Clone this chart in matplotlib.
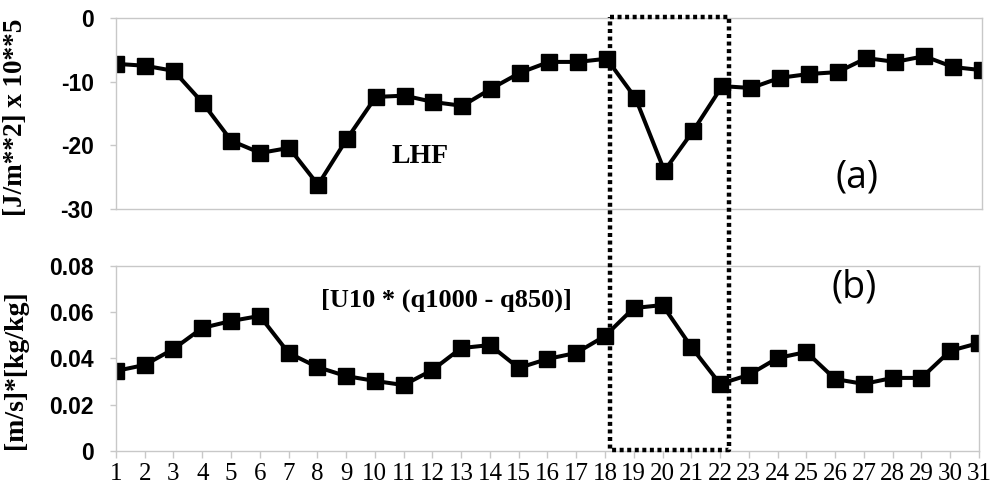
import matplotlib
matplotlib.use("Agg")
import matplotlib.pyplot as plt
from matplotlib.lines import Line2D

plt.rcParams["axes.unicode_minus"] = False

# dias del mes
dias = list(range(1, 32))

# (a) LHF  [J/m**2] x 10**5
lhf = [-7.2, -7.5, -8.3, -13.3, -19.3, -21.2, -20.4, -26.2, -19.0, -12.4,
       -12.2, -13.2, -13.8, -11.1, -8.6, -6.9, -6.9, -6.4, -12.6, -24.0,
       -17.7, -10.7, -11.0, -9.4, -8.8, -8.5, -6.3, -6.9, -6.0, -7.7, -8.2]

# (b) U10 * (q1000 - q850)
uq = [0.0346, 0.0372, 0.0441, 0.0532, 0.0562, 0.0584, 0.0424, 0.0363, 0.0324, 0.0303,
      0.0285, 0.0350, 0.0445, 0.0458, 0.0359, 0.0398, 0.0424, 0.0497, 0.0618, 0.0631,
      0.0450, 0.0290, 0.0329, 0.0402, 0.0428, 0.0311, 0.0290, 0.0316, 0.0316, 0.0433, 0.0467]

# caja punteada (dias 18-22)
caja_x = (18.1, 22.25)

gris = "#c8c8c8"
sans = ["Liberation Sans", "DejaVu Sans"]
serif = ["Liberation Serif", "DejaVu Serif"]
calibri = ["Open Sans", "DejaVu Sans"]

fig = plt.figure(figsize=(9.98, 4.9), dpi=100)
ax1 = fig.add_axes([0.1162, 0.5735, 0.8677, 0.3898])
ax2 = fig.add_axes([0.1162, 0.0796, 0.8647, 0.3776])

estilo = dict(color="black", lw=2.9, marker="s", markersize=11.5, markeredgewidth=1)

# --- panel (a) ---
ax1.plot(dias, lhf, **estilo)
ax1.set_xlim(1, 31)
ax1.set_ylim(-30, 0)
ax1.set_yticks([0, -10, -20, -30])
ax1.set_xticks([])
ax1.set_ylabel("[J/m**2] x 10**5", fontsize=19.5, fontweight="bold", family=serif)
ax1.yaxis.set_label_coords(-0.102, 0.48)
ax1.text(11.55, -21.8, "LHF", fontsize=20, fontweight="bold", family=serif, ha="center", va="center")
ax1.text(26.66, -25.1, "(a)", fontsize=27, family=calibri, ha="center", va="center")

# --- panel (b) ---
ax2.plot(dias, uq, **estilo)
ax2.set_xlim(1, 31)
ax2.set_ylim(0, 0.08)
ax2.set_yticks([0, 0.02, 0.04, 0.06, 0.08])
ax2.set_yticklabels(["0", "0.02", "0.04", "0.06", "0.08"])
ax2.set_xticks(dias)
ax2.set_ylabel("[m/s]*[kg/kg]", fontsize=20, fontweight="bold", family=serif)
ax2.yaxis.set_label_coords(-0.102, 0.44)
ax2.text(12.5, 0.0653, "[U10 * (q1000 - q850)]", fontsize=19, fontweight="bold", family=serif,
         ha="center", va="center")
ax2.text(26.66, 0.0709, "(b)", fontsize=27, family=calibri, ha="center", va="center")

for ax in (ax1, ax2):
    for s in ax.spines.values():
        s.set_color(gris)
        s.set_linewidth(1)
    ax.tick_params(axis="both", colors=gris, length=4, width=1)
    ax.tick_params(axis="y", pad=12)
    for lab in ax.get_yticklabels():
        lab.set_color("black")
        lab.set_fontsize(16.5)
        lab.set_fontweight("bold")
        lab.set_family(sans)

ax2.tick_params(axis="x", length=5, pad=4)
for lab in ax2.get_xticklabels():
    lab.set_color("black")
    lab.set_fontsize(18)
    lab.set_family(serif)

# caja punteada que cruza ambos paneles
inv = fig.transFigure.inverted()
x0, y_top = inv.transform(ax1.transData.transform((caja_x[0], 0.1)))
x1, _ = inv.transform(ax1.transData.transform((caja_x[1], 0.1)))
_, y_bot = inv.transform(ax2.transData.transform((caja_x[0], 0.0005)))
caja = Line2D([x0, x1, x1, x0, x0], [y_top, y_top, y_bot, y_bot, y_top],
              transform=fig.transFigure, color="black", lw=3.2,
              linestyle=(0, (0.9, 0.8)), solid_capstyle="butt", dash_capstyle="butt")
fig.add_artist(caja)

fig.savefig("out.png", dpi=100)
